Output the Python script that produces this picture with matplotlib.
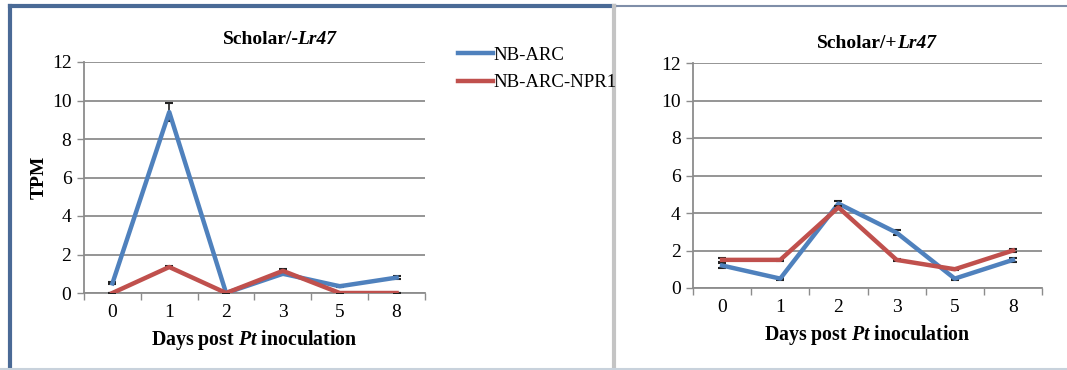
import matplotlib
matplotlib.use("Agg")
import matplotlib.pyplot as plt
from matplotlib.lines import Line2D
from matplotlib.ticker import FixedLocator, NullFormatter

plt.rcParams["font.family"] = ["Liberation Serif", "DejaVu Serif"]
plt.rcParams["mathtext.fontset"] = "custom"
plt.rcParams["mathtext.rm"] = "Liberation Serif:bold"
plt.rcParams["mathtext.it"] = "Liberation Serif:italic:bold"
plt.rcParams["mathtext.bf"] = "Liberation Serif:bold"

days = ["0", "1", "2", "3", "5", "8"]
series_names = ["NB-ARC", "NB-ARC-NPR1"]

# Scholar/-Lr47
minus_arc = [0.5, 9.4, 0.0, 1.0, 0.35, 0.8]
minus_arc_err = [0.05, 0.45, 0.02, 0.08, 0.04, 0.06]
minus_npr1 = [0.0, 1.35, 0.0, 1.15, 0.0, 0.0]
minus_npr1_err = [0.0, 0.05, 0.0, 0.08, 0.0, 0.0]

# Scholar/+Lr47
plus_arc = [1.2, 0.5, 4.5, 2.95, 0.5, 1.5]
plus_arc_err = [0.12, 0.05, 0.15, 0.12, 0.06, 0.1]
plus_npr1 = [1.5, 1.5, 4.3, 1.5, 1.0, 2.0]
plus_npr1_err = [0.1, 0.06, 0.1, 0.05, 0.05, 0.08]

W, H = 1067, 370
BLUE = "#4F81BD"
RED = "#C0504D"
GRID = "#8c8c8c"

fig = plt.figure(figsize=(W / 100, H / 100), dpi=100)
renderer = fig.canvas.get_renderer()


def px(x0, y0, w, h):
    # pixel box (top-left origin) -> figure fraction
    return [x0 / W, 1 - (y0 + h) / H, w / W, h / H]


def mixed_title(cx, cy, parts, size):
    # parts: list of (text, style); laid out left to right, centred on cx
    texts = [fig.text(0, 1 - cy / H, s, fontsize=size, fontweight="bold",
                      fontstyle=st, va="center", ha="left") for s, st in parts]
    widths = [t.get_window_extent(renderer).width for t in texts]
    x = cx - sum(widths) / 2
    for t, w in zip(texts, widths):
        t.set_x(x / W)
        x += w - 1


def panel(rect, arc, arc_err, npr1, npr1_err):
    ax = fig.add_axes(rect)
    x = list(range(len(days)))
    ax.errorbar(x, arc, yerr=arc_err, color=BLUE, lw=3.2, ecolor="#222222",
                elinewidth=1.2, capsize=3, capthick=1.5, zorder=3)
    ax.errorbar(x, npr1, yerr=npr1_err, color=RED, lw=3.2, ecolor="#222222",
                elinewidth=1.2, capsize=3, capthick=1.5, zorder=4)
    ax.set_xlim(-0.5, len(days) - 0.5)
    ax.set_ylim(0, 12)
    ax.set_yticks(range(0, 13, 2))
    ax.set_xticks(x)
    ax.set_xticklabels(days)
    ax.xaxis.set_minor_locator(FixedLocator([i - 0.5 for i in range(len(days) + 1)]))
    ax.xaxis.set_minor_formatter(NullFormatter())
    ax.tick_params(axis="x", which="major", length=0, pad=8, labelsize=14)
    ax.tick_params(axis="x", which="minor", length=5, color=GRID, width=1)
    ax.tick_params(axis="y", length=5, color=GRID, width=1, pad=4, labelsize=14)
    ax.yaxis.grid(True, color=GRID, lw=1.3)
    ax.set_axisbelow(True)
    for s in ("top", "right"):
        ax.spines[s].set_visible(False)
    for s in ("left", "bottom"):
        ax.spines[s].set_color(GRID)
        ax.spines[s].set_linewidth(1.3)
    ax.set_xlabel("Days post $Pt$ inoculation", fontsize=14.3,
                  fontweight="bold", labelpad=5)
    return ax


ax1 = panel(px(84, 62, 341, 231), minus_arc, minus_arc_err, minus_npr1, minus_npr1_err)
ax1.set_ylabel("TPM", fontsize=14, fontweight="bold", labelpad=3)
mixed_title(280, 40, [("Scholar/-", "normal"), ("Lr47", "italic")], 14)

ax2 = panel(px(693, 63, 349, 225), plus_arc, plus_arc_err, plus_npr1, plus_npr1_err)
mixed_title(877, 43, [("Scholar/+", "normal"), ("Lr47", "italic")], 14)

handles = [Line2D([], [], color=BLUE, lw=3.2), Line2D([], [], color=RED, lw=3.2)]
fig.legend(handles, series_names, loc="upper left",
           bbox_to_anchor=(441 / W, 1 - 30 / H), frameon=False, fontsize=13.5,
           handlelength=1.85, handletextpad=0.05, labelspacing=0.55)

# panel frames
fig.add_artist(Line2D([10 / W, 10 / W], [1 - 6 / H, 0], color="#4A6A96", lw=3))
fig.add_artist(Line2D([10 / W, 614 / W], [1 - 6 / H, 1 - 6 / H], color="#4A6A96", lw=3))
fig.add_artist(Line2D([614 / W, 1], [1 - 6 / H, 1 - 6 / H], color="#7f8ea8", lw=1.5))
fig.add_artist(Line2D([614 / W, 614 / W], [1 - 6 / H, 0], color="#c4c4c4", lw=3))
fig.add_artist(Line2D([0, 1], [1.5 / H, 1.5 / H], color="#c8d2dc", lw=1.5))

fig.savefig("out.png", dpi=100)
